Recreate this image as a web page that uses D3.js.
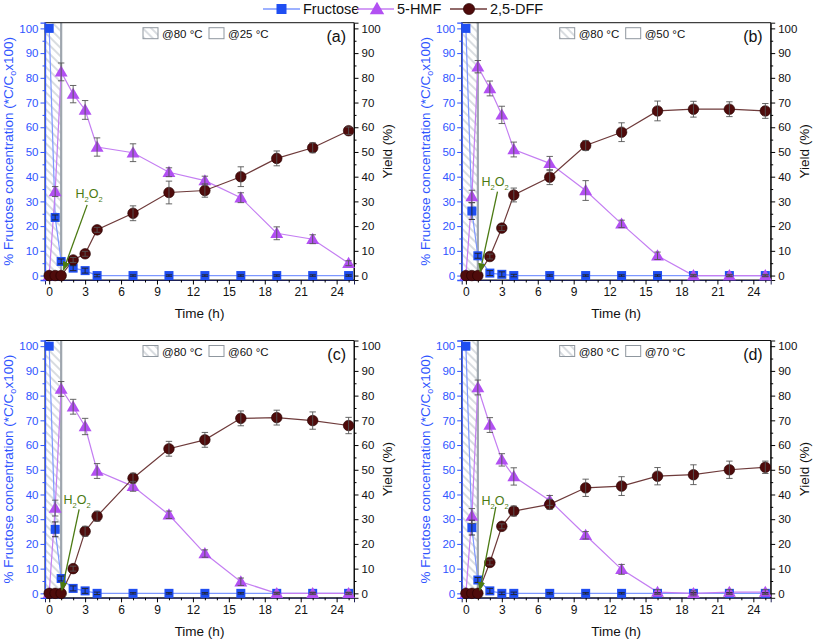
<!DOCTYPE html>
<html>
<head>
<meta charset="utf-8">
<script src="https://cdn.jsdelivr.net/npm/d3@7"></script>
<style>
  body { margin: 0; background: #fff; }
  text { font-family: "Liberation Sans", Arial, sans-serif; }
</style>
</head>
<body>
<div id="chart"></div>
<script>
// sampling times (h)
const times = [0, 0.5, 1, 2, 3, 4, 7, 10, 13, 16, 19, 22, 25];

// (a) 25 °C
const fruA    = [100, 23.5, 5.7, 3, 2, 0, 0, 0, 0, 0, 0, 0, 0];
const fruErrA = [0, 1, 1, 1, 1, 0.5, 0.3, 0.3, 0.3, 0.3, 0.3, 0.3, 0.3];
const hmfA    = [0, 34, 82.4, 73.4, 67, 52, 49.7, 41.8, 38.4, 31.5, 17.1, 14.7, 5];
const hmfErrA = [0, 2, 3.6, 3.5, 3.8, 3.7, 3.6, 1.8, 1.8, 2, 2.6, 1.8, 1];
const dffA    = [0, 0, 0, 6.3, 8.8, 18.5, 25.2, 33.6, 34.4, 40, 47.4, 51.7, 58.6];
const dffErrA = [0, 0, 0, 1, 1, 1, 3, 4.6, 2.7, 4, 3, 2, 1.5];

// (b) 50 °C
const fruB    = [100, 26.1, 8, 1, 0.5, 0, 0, 0, 0, 0, 0, 0, 0];
const fruErrB = [0, 3.4, 1, 1, 1, 0.5, 0.3, 0.3, 0.3, 0.3, 0.3, 0.3, 0.3];
const hmfB    = [0, 32, 84.5, 75.7, 65, 51, 45.4, 34.4, 20.9, 8, 0, 0, 0];
const hmfErrB = [0, 2.5, 2.5, 3, 3.5, 3, 2.8, 4, 1.5, 1.5, 0.5, 0.5, 0.5];
const dffB    = [0, 0, 0, 7.7, 19.2, 32.6, 39.8, 52.6, 58, 66.6, 67.3, 67.3, 66.6];
const dffErrB = [0, 0, 0, 1, 1, 2.8, 3, 2, 3.8, 4, 3.2, 3, 3];

// (c) 60 °C
const fruC    = [100, 25.9, 6, 2, 1, 0, 0, 0, 0, 0, 0, 0, 0];
const fruErrC = [0, 3, 1, 1, 1, 0.5, 0.3, 0.3, 0.3, 0.3, 0.3, 0.3, 0.3];
const hmfC    = [0, 34.5, 82.7, 75.5, 67.5, 49.5, 43.3, 31.8, 16.1, 4.7, 0, 0, 0];
const hmfErrC = [0, 3.2, 3, 3, 3.3, 3, 2, 1.5, 1.5, 1.5, 0.5, 0.5, 0.5];
const dffC    = [0, 0, 0, 10, 25.1, 31.2, 46.6, 58.5, 62.1, 70.8, 71.1, 69.9, 67.9];
const dffErrC = [0, 0, 0, 1, 2, 2, 2, 3, 3, 3, 3, 3.5, 3.3];

// (d) 70 °C
const fruD    = [100, 26.6, 5.4, 1, 0, 0, 0, 0, 0, 0, 0, 0, 0];
const fruErrD = [0, 3, 1, 1, 0.5, 0.5, 0.3, 0.3, 0.3, 0.3, 0.3, 0.3, 0.3];
const hmfD    = [0, 31.3, 83.3, 68.1, 54, 47.3, 37.6, 23.5, 9.7, 0.5, 0, 0.5, 0.5];
const hmfErrD = [0, 3, 3, 3, 2.5, 3.5, 2, 1.5, 2, 1, 1, 1, 1];
const dffD    = [0, 0, 0, 12.5, 27.1, 33.3, 36, 42.7, 43.4, 47.4, 48, 50, 51];
const dffErrD = [0, 0, 0, 1, 1, 2, 2, 3.5, 3.8, 3.5, 4, 3.5, 2.5];

const xTicks = [0, 3, 6, 9, 12, 15, 18, 21, 24];
const yTicks = [0, 10, 20, 30, 40, 50, 60, 70, 80, 90, 100];
const seriesNames = ['Fructose', '5-HMF', '2,5-DFF'];

const width = 813, height = 641;
const blue = '#2f55ff', fruCol = '#1f4ef2', fruLine = '#7d97ff';
const hmfCol = '#b250f2', hmfLine = '#c47ef2';
const dffCol = '#4f0b0b', dffLine = '#6e3a3a';
const green = '#4b7a12';

let svg = d3.select('#chart').append('svg')
  .attr('width', width).attr('height', height);

// hatch pattern for the 80 °C zone
let defs = svg.append('defs');
defs.append('pattern')
  .attr('id', 'hatch').attr('patternUnits', 'userSpaceOnUse')
  .attr('width', 6).attr('height', 6)
  .attr('patternTransform', 'rotate(45)')
  .append('line')
  .attr('x1', 0).attr('y1', 3).attr('x2', 6).attr('y2', 3)
  .attr('stroke', '#aab2bb').attr('stroke-width', 0.9);
defs.append('marker')
  .attr('id', 'arrow').attr('viewBox', '0 0 10 10')
  .attr('refX', 9).attr('refY', 5)
  .attr('markerWidth', 7).attr('markerHeight', 7)
  .attr('orient', 'auto-start-reverse')
  .append('path').attr('d', 'M0,1 L10,5 L0,9 Z').attr('fill', green);

const panels = [
  { id: '(a)', temp: '@25 °C', left: 45, top: 22.7, fru: fruA, fruErr: fruErrA, hmf: hmfA, hmfErr: hmfErrA, dff: dffA, dffErr: dffErrA,
    note: [2.2, 32.6], arrow: [3.17, 28.6, 1.2, 2.3] },
  { id: '(b)', temp: '@50 °C', left: 461.7, top: 22.7, fru: fruB, fruErr: fruErrB, hmf: hmfB, hmfErr: hmfErrB, dff: dffB, dffErr: dffErrB,
    note: [1.3, 37.4], arrow: [2.64, 34, 1.19, 1.6] },
  { id: '(c)', temp: '@60 °C', left: 45, top: 340.5, fru: fruC, fruErr: fruErrC, hmf: hmfC, hmfErr: hmfErrC, dff: dffC, dffErr: dffErrC,
    note: [1.2, 37.3], arrow: [2.5, 34, 1.06, 1.3] },
  { id: '(d)', temp: '@70 °C', left: 461.7, top: 340.5, fru: fruD, fruErr: fruErrD, hmf: hmfD, hmfErr: hmfErrD, dff: dffD, dffErr: dffErrD,
    note: [1.3, 37], arrow: [2.5, 35, 1.17, 1.3] }
];

const pw = 309, ph = 257.3;

const drawPanel = (p) => {
  let g = svg.append('g');
  let x = d3.scaleLinear().domain([-0.35, 25.45]).range([p.left, p.left + pw]);
  let y = d3.scaleLinear().domain([-1.8, 102.3]).range([p.top + ph, p.top]);
  let bottom = p.top + ph;

  // 80 °C hatched zone
  g.append('rect')
    .attr('x', x(-0.35)).attr('y', p.top)
    .attr('width', x(1) - x(-0.35)).attr('height', ph)
    .attr('fill', 'url(#hatch)');
  g.append('line')
    .attr('x1', x(1)).attr('x2', x(1)).attr('y1', p.top).attr('y2', bottom)
    .attr('stroke', '#9ea6ae').attr('stroke-width', 2.2);

  // frame
  g.append('rect')
    .attr('x', p.left).attr('y', p.top).attr('width', pw).attr('height', ph)
    .attr('fill', 'none').attr('stroke', '#111').attr('stroke-width', 1);

  // axes
  let xAxis = g.append('g').attr('transform', `translate(0,${bottom})`)
    .call(d3.axisBottom(x).tickValues(xTicks).tickSize(4.5).tickPadding(3));
  g.append('g').attr('transform', `translate(0,${bottom})`)
    .call(d3.axisBottom(x).tickValues(d3.range(0, 26, 1).filter(v => v % 3 !== 0)).tickSize(2.5).tickFormat(''))
    .select('.domain').remove();
  xAxis.selectAll('text').attr('font-size', 12).attr('fill', '#111').attr('font-family', '"Liberation Sans", Arial, sans-serif');
  xAxis.select('.domain').attr('stroke', '#1c1f55');

  let yl = g.append('g').attr('transform', `translate(${p.left},0)`)
    .call(d3.axisLeft(y).tickValues(yTicks).tickSize(4.5).tickPadding(2));
  g.append('g').attr('transform', `translate(${p.left},0)`)
    .call(d3.axisLeft(y).tickValues(d3.range(5, 100, 10)).tickSize(2.5).tickFormat(''))
    .call(a => a.selectAll('line').attr('stroke', blue))
    .select('.domain').remove();
  yl.selectAll('line').attr('stroke', blue);
  yl.select('.domain').attr('stroke', blue).attr('stroke-width', 1.3);
  yl.selectAll('text').attr('font-size', 11.5).attr('fill', blue).attr('font-family', '"Liberation Sans", Arial, sans-serif');

  let yr = g.append('g').attr('transform', `translate(${p.left + pw},0)`)
    .call(d3.axisRight(y).tickValues(yTicks).tickSize(4.5).tickPadding(3));
  g.append('g').attr('transform', `translate(${p.left + pw},0)`)
    .call(d3.axisRight(y).tickValues(d3.range(5, 100, 10)).tickSize(2.5).tickFormat(''))
    .select('.domain').remove();
  yr.selectAll('text').attr('font-size', 11.5).attr('fill', '#111').attr('font-family', '"Liberation Sans", Arial, sans-serif');
  yr.select('.domain').attr('stroke', '#111');

  // axis titles
  let cy = p.top + ph / 2;
  let lt = g.append('text')
    .attr('transform', `translate(${p.left - 32},${cy}) rotate(-90)`)
    .attr('text-anchor', 'middle').attr('font-size', 13.5).attr('fill', blue);
  lt.append('tspan').text('% Fructose concentration (*C/C');
  lt.append('tspan').attr('font-size', 9).attr('dy', 3).text('o');
  lt.append('tspan').attr('dy', -3).text('x100)');

  g.append('text')
    .attr('transform', `translate(${p.left + pw + 38},${cy}) rotate(-90)`)
    .attr('text-anchor', 'middle').attr('font-size', 13.5).attr('fill', '#111')
    .text('Yield (%)');

  g.append('text')
    .attr('x', p.left + pw / 2).attr('y', bottom + 38)
    .attr('text-anchor', 'middle').attr('font-size', 13.5).attr('fill', '#111')
    .text('Time (h)');

  // in-plot zone legend
  let lx = p.left + 98, ly = p.top + 5;
  g.append('rect').attr('x', lx).attr('y', ly).attr('width', 15).attr('height', 11)
    .attr('fill', 'url(#hatch)').attr('stroke', '#8f979f');
  g.append('text').attr('x', lx + 19).attr('y', ly + 10).attr('font-size', 11.5).attr('fill', '#111').text('@80 °C');
  g.append('rect').attr('x', lx + 66).attr('y', ly).attr('width', 15).attr('height', 11)
    .attr('fill', '#fff').attr('stroke', '#8f979f');
  g.append('text').attr('x', lx + 85).attr('y', ly + 10).attr('font-size', 11.5).attr('fill', '#111').text(p.temp);

  g.append('text').attr('x', p.left + pw - 8).attr('y', p.top + 19)
    .attr('text-anchor', 'end').attr('font-size', 16).attr('fill', '#111').text(p.id);

  // series
  let line = d3.line().x((d, i) => x(times[i])).y(d => y(d));
  g.append('path').datum(p.fru).attr('d', line).attr('fill', 'none').attr('stroke', fruLine).attr('stroke-width', 1.2);
  g.append('path').datum(p.hmf).attr('d', line).attr('fill', 'none').attr('stroke', hmfLine).attr('stroke-width', 1.2);
  g.append('path').datum(p.dff).attr('d', line).attr('fill', 'none').attr('stroke', dffLine).attr('stroke-width', 1.2);

  let sym = d3.symbol().type(d3.symbolTriangle).size(72);
  g.selectAll('.sq').data(p.fru).enter().append('rect')
    .attr('x', (d, i) => x(times[i]) - 4.5).attr('y', d => y(d) - 4.5)
    .attr('width', 9).attr('height', 9).attr('fill', fruCol);
  g.selectAll('.tri').data(p.hmf).enter().append('path')
    .attr('d', sym).attr('transform', (d, i) => `translate(${x(times[i])},${y(d) + 1})`)
    .attr('fill', hmfCol);
  g.selectAll('.dot').data(p.dff).enter().append('circle')
    .attr('cx', (d, i) => x(times[i])).attr('cy', d => y(d)).attr('r', 5.3)
    .attr('fill', dffCol).attr('stroke', '#220000').attr('stroke-width', 0.6);

  // error bars
  const errBars = (vals, errs, col) => {
    vals.forEach((v, i) => {
      let e = errs[i];
      if (!e) return;
      let cx = x(times[i]);
      g.append('line').attr('x1', cx).attr('x2', cx).attr('y1', y(v - e)).attr('y2', y(v + e))
        .attr('stroke', col).attr('stroke-width', 0.9);
      [v - e, v + e].forEach(w => g.append('line')
        .attr('x1', cx - 3.2).attr('x2', cx + 3.2).attr('y1', y(w)).attr('y2', y(w))
        .attr('stroke', col).attr('stroke-width', 0.9));
    });
  };
  errBars(p.fru, p.fruErr, '#222');
  errBars(p.hmf, p.hmfErr, '#555');
  errBars(p.dff, p.dffErr, '#555');

  // H2O2 annotation
  let nt = g.append('text').attr('x', x(p.note[0])).attr('y', y(p.note[1]) + 3)
    .attr('font-size', 12.5).attr('fill', green);
  nt.append('tspan').text('H');
  nt.append('tspan').attr('font-size', 7.5).attr('dy', 4).text('2');
  nt.append('tspan').attr('dy', -4).text('O');
  nt.append('tspan').attr('font-size', 7.5).attr('dy', 4).text('2');
  g.append('line')
    .attr('x1', x(p.arrow[0])).attr('y1', y(p.arrow[1]))
    .attr('x2', x(p.arrow[2])).attr('y2', y(p.arrow[3]))
    .attr('stroke', green).attr('stroke-width', 1.3).attr('marker-end', 'url(#arrow)');
};

panels.forEach(drawPanel);

// top legend
let leg = svg.append('g');
const legX = [263, 357, 450];
const legCols = [[fruLine, fruCol], [hmfLine, hmfCol], [dffLine, dffCol]];
seriesNames.forEach((name, i) => {
  let lx = legX[i], ly = 9;
  leg.append('line').attr('x1', lx).attr('x2', lx + 37).attr('y1', ly).attr('y2', ly)
    .attr('stroke', legCols[i][0]).attr('stroke-width', 1.4);
  if (i === 0) leg.append('rect').attr('x', lx + 13.5).attr('y', ly - 5).attr('width', 10).attr('height', 10).attr('fill', fruCol);
  if (i === 1) leg.append('path').attr('d', d3.symbol().type(d3.symbolTriangle).size(90)).attr('transform', `translate(${lx + 20},${ly + 1})`).attr('fill', hmfCol);
  if (i === 2) leg.append('circle').attr('cx', lx + 19).attr('cy', ly).attr('r', 5.6).attr('fill', dffCol).attr('stroke', '#220000').attr('stroke-width', 0.6);
  leg.append('text').attr('x', lx + 40).attr('y', ly + 5).attr('font-size', 14.5).attr('fill', '#111').text(name);
});
</script>
</body>
</html>
